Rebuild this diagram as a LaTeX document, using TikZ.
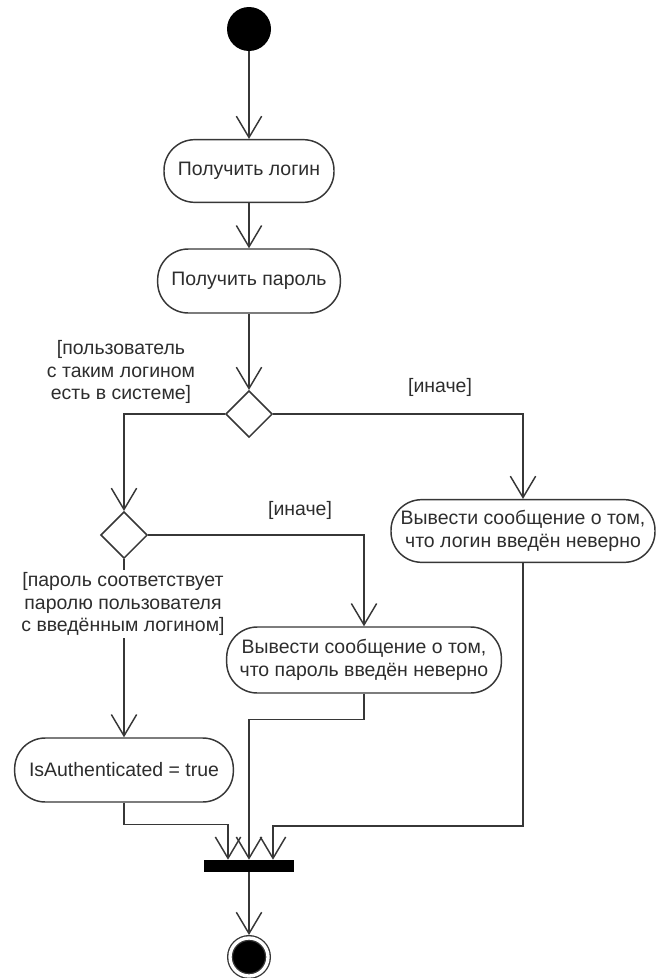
\documentclass[tikz,border=0pt]{standalone}
\usepackage{fontspec}
\setmainfont{Liberation Sans}
\usepackage{tikz}
\usetikzlibrary{shapes.geometric, arrows.meta, calc}
\definecolor{umlline}{RGB}{55,55,55}
\definecolor{umltext}{RGB}{45,45,45}
\tikzset{
  action/.style={rectangle, draw=umlline, fill=white, rounded corners=23pt,
    align=center, minimum height=47pt, font=\fontsize{14.6}{17}\selectfont,
    text=umltext, line width=1.1pt, inner sep=2pt},
  decision/.style={diamond, draw=umlline, fill=white, aspect=1,
    minimum size=35pt, inner sep=0pt, line width=1.1pt},
  guard/.style={align=center, font=\fontsize{14.6}{17}\selectfont,
    text=umltext, inner sep=2pt},
  initial/.style={circle, fill=black, minimum size=33pt, inner sep=0pt},
  final/.style={circle, draw=umlline, fill=black, double=white,
    double distance=2.5pt, line width=1pt, minimum size=28.5pt,
    inner sep=0pt, outer sep=2.25pt},
  joinbar/.style={rectangle, fill=black, minimum width=67pt,
    minimum height=9pt, inner sep=0pt},
  flow/.style={-{Straight Barb[length=16pt, width=19pt]}, line width=1.1pt,
    color=umlline}
}

\begin{document}
\begin{tikzpicture}[x=0.75pt, y=-0.75pt]
  \useasboundingbox (0,0) rectangle (656,978);
  % start and first steps
  \node[initial] (start) at (249,29) {};
  \node[action, minimum width=127.5pt] (getlogin) at (249,171) {Получить логин};
  \node[action, minimum width=137pt, minimum height=48pt] (getpass) at (249,281) {Получить пароль};
  % decisions
  \node[decision] (dec1) at (249,414) {};
  \node[decision] (dec2) at (124,535) {};
  % actions
  \node[action, minimum width=198pt] (loginerr) at (523,531)
    {Вывести сообщение о том,\\ что логин введён неверно};
  \node[action, minimum width=206pt, minimum height=49.5pt] (passerr) at (364,660)
    {Вывести сообщение о том,\\ что пароль введён неверно};
  \node[action, minimum width=164pt, minimum height=48pt] (isauth) at (124,770)
    {IsAuthenticated = true};
  % join and end
  \node[joinbar] (bar) at (249,866) {};
  \node[final] (end) at (249,957) {};

  % flows
  \draw[flow] (start) -- (getlogin);
  \draw[flow] (getlogin) -- (getpass);
  \draw[flow] (getpass) -- (dec1);
  \draw[flow] (dec1.west) -| (dec2.north);
  \draw[flow] (dec1.east) -| (loginerr.north);
  \draw[flow] (dec2.east) -| (passerr.north);
  \draw[flow] (dec2.south) -- (isauth.north);
  \draw[flow] (isauth.south) -- ++(0,22) -| ($(bar.north)+(-21,0)$);
  \draw[flow] (passerr.south) -- ++(0,26) -| (bar.north);
  \draw[flow] (loginerr.south) -- ++(0,263) -| ($(bar.north)+(24,0)$);
  \draw[flow] (bar) -- (end);

  % guards
  \node[guard] (guardlogin) at (121,372) {[пользователь\\ с таким логином\\ есть в системе]};
  \node[guard, fill=white] (guardpass) at (123,604) {[пароль соответствует\\ паролю пользователя\\ с введённым логином]};
  \node[guard] (elselogin) at (440,387) {[иначе]};
  \node[guard] (elsepass) at (300,510) {[иначе]};
\end{tikzpicture}
\end{document}
